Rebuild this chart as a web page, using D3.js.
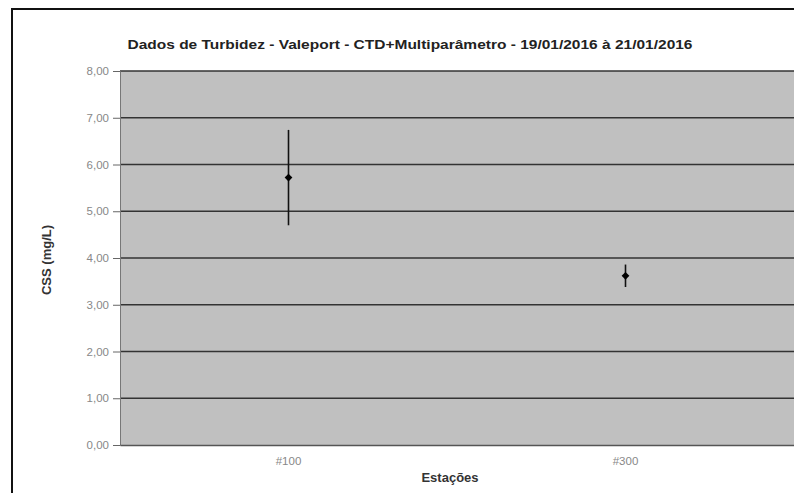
<!DOCTYPE html>
<html>
<head>
<meta charset="utf-8">
<script src="https://cdn.jsdelivr.net/npm/d3@7"></script>
<style>
  body { margin: 0; background: #fff; }
  svg { display: block; font-family: 'Liberation Sans', Arial, sans-serif; }
</style>
</head>
<body>
<div id="chart-area"></div>
<script>
// Data
const stations = ['#100', '#300'];
const meanValues = [5.72, 3.62];
const minValues = [4.70, 3.38];
const maxValues = [6.74, 3.86];
const yTicks = [0, 1, 2, 3, 4, 5, 6, 7, 8];

// Constants
const W = 794, H = 493;
const PLOT = { LEFT: 120, RIGHT: 794, TOP: 71, BOTTOM: 445 };

const svg = d3.select('#chart-area')
    .append('svg')
    .attr('width', W)
    .attr('height', H);

// Chart area frame
svg.append('rect')
    .attr('x', 12).attr('y', 9)
    .attr('width', W + 20).attr('height', H + 20)
    .attr('fill', '#fff')
    .attr('stroke', '#111')
    .attr('stroke-width', 2);

// Scales
const x = d3.scaleBand()
    .domain(stations)
    .range([PLOT.LEFT, PLOT.RIGHT]);

const y = d3.scaleLinear()
    .domain([0, 8])
    .range([PLOT.BOTTOM, PLOT.TOP]);

const fmt = d => d3.format('.2f')(d).replace('.', ',');

// Plot background
svg.append('rect')
    .attr('x', PLOT.LEFT).attr('y', PLOT.TOP)
    .attr('width', PLOT.RIGHT - PLOT.LEFT)
    .attr('height', PLOT.BOTTOM - PLOT.TOP)
    .attr('fill', '#c0c0c0');

// Gridlines
svg.append('g')
    .selectAll('line')
    .data(yTicks.filter(d => d > 0))
    .enter().append('line')
    .attr('x1', PLOT.LEFT).attr('x2', PLOT.RIGHT)
    .attr('y1', d => y(d)).attr('y2', d => y(d))
    .attr('stroke', '#333')
    .attr('stroke-width', 1.3);

// Y axis
const yAxis = svg.append('g')
    .attr('transform', `translate(${PLOT.LEFT},0)`)
    .call(d3.axisLeft(y).tickValues(yTicks).tickFormat(fmt).tickSize(7).tickPadding(4));
yAxis.select('.domain').attr('stroke', '#777');
yAxis.selectAll('.tick line').attr('stroke', '#666');
yAxis.selectAll('text')
    .attr('font-size', 11.5)
    .attr('fill', '#888');

// X axis
const xAxis = svg.append('g')
    .attr('transform', `translate(0,${PLOT.BOTTOM})`)
    .call(d3.axisBottom(x).tickSize(0).tickPadding(12));
xAxis.select('.domain').attr('stroke', '#555').attr('stroke-width', 1.5);
xAxis.selectAll('text')
    .attr('font-size', 11.5)
    .attr('fill', '#888');

// Error bars
svg.append('g')
    .selectAll('line')
    .data(stations)
    .enter().append('line')
    .attr('x1', d => x(d) + x.bandwidth() / 2)
    .attr('x2', d => x(d) + x.bandwidth() / 2)
    .attr('y1', (d, i) => y(minValues[i]))
    .attr('y2', (d, i) => y(maxValues[i]))
    .attr('stroke', '#111')
    .attr('stroke-width', 1.6);

// Markers (square diamonds)
svg.append('g')
    .selectAll('path')
    .data(stations)
    .enter().append('path')
    .attr('transform', (d, i) => `translate(${x(d) + x.bandwidth() / 2},${y(meanValues[i])}) rotate(45)`)
    .attr('d', d3.symbol().type(d3.symbolSquare).size(30))
    .attr('fill', '#000');

// Title
svg.append('text')
    .attr('x', 410).attr('y', 49)
    .attr('text-anchor', 'middle')
    .attr('font-size', 13.5)
    .attr('font-weight', 'bold')
    .attr('fill', '#222')
    .attr('textLength', 565)
    .attr('lengthAdjust', 'spacingAndGlyphs')
    .text('Dados de Turbidez - Valeport - CTD+Multiparâmetro - 19/01/2016 à 21/01/2016');

// Axis titles
svg.append('text')
    .attr('transform', 'translate(51,260) rotate(-90)')
    .attr('text-anchor', 'middle')
    .attr('font-size', 13)
    .attr('font-weight', 'bold')
    .attr('fill', '#333')
    .text('CSS (mg/L)');

svg.append('text')
    .attr('x', 450).attr('y', 482)
    .attr('text-anchor', 'middle')
    .attr('font-size', 13)
    .attr('font-weight', 'bold')
    .attr('fill', '#333')
    .text('Estações');
</script>
</body>
</html>
